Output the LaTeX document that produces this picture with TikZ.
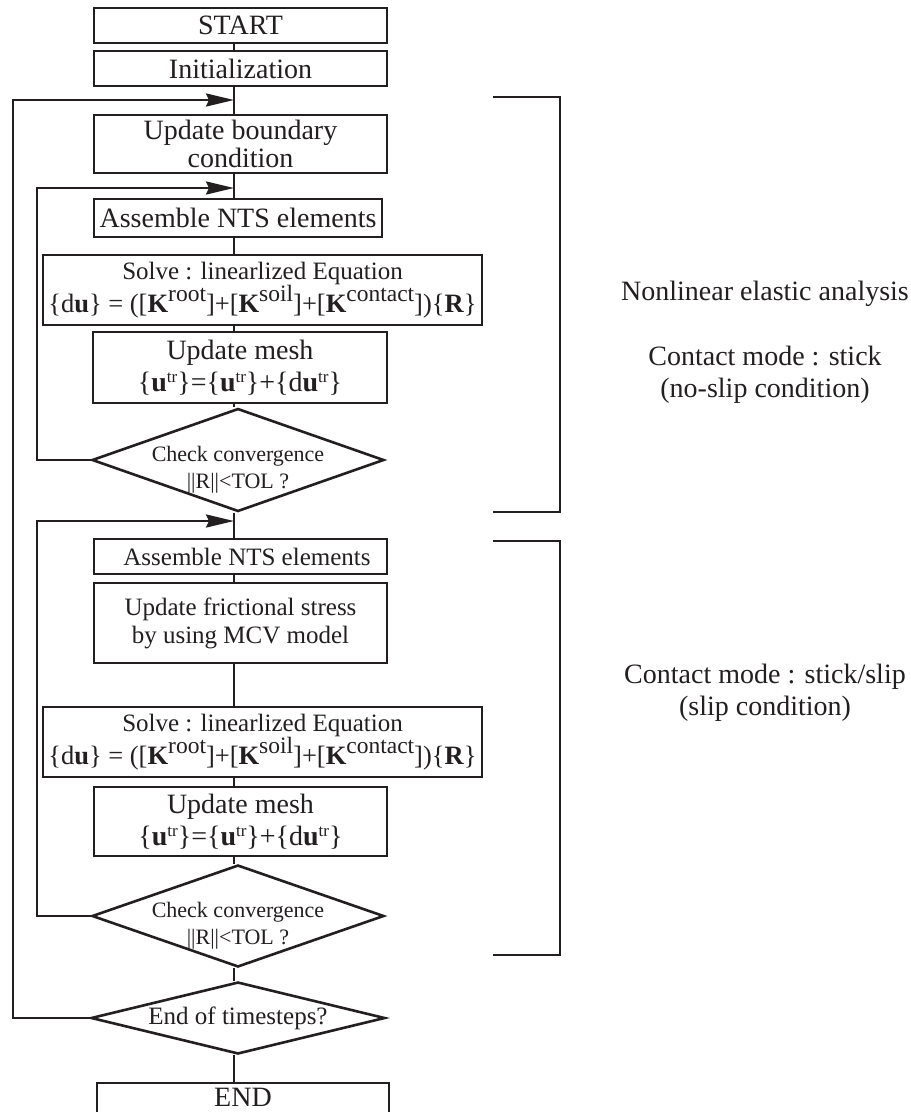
\documentclass[tikz,border=0pt]{standalone}
\usepackage{fontspec}
\setmainfont{Liberation Serif}
\usetikzlibrary{arrows.meta,shapes.geometric}
\definecolor{ink}{RGB}{35,31,32}
\newcommand\supx[1]{\raisebox{11pt}{\fontsize{23.5}{23.5}\selectfont #1}}
\newcommand\supt[1]{\raisebox{9pt}{\fontsize{17}{17}\selectfont #1}}
\begin{document}
\begin{tikzpicture}[x=1pt,y=-1pt,
  line width=2.6pt, draw=ink, text=ink,
  box/.style={draw=ink, rectangle, inner sep=0pt, align=center, font=\fontsize{28}{28}\selectfont},
  dec/.style={draw=ink, diamond, inner sep=0pt},
  dectxt/.style={inner sep=0pt, align=center, font=\fontsize{22}{27}\selectfont, text=ink},
  arr/.style={-{Stealth[length=28pt,width=13pt,inset=3pt]}},
  lab/.style={font=\fontsize{28}{32}\selectfont, align=center, anchor=base, text=ink},
  link/.style={draw=ink}
]
\clip (0,0) rectangle (911,1112);
\fill[white] (0,0) rectangle (911,1112);

% spine coordinate
\coordinate (sp) at (234,0);

% boxes
\node[box, minimum width=293pt, minimum height=35pt] (start) at (240.5,25.5) {START};
\node[box, minimum width=293pt, minimum height=35pt] (init) at (240.5,68.5) {Initialization};
\node[box, minimum width=293pt, minimum height=58pt] (ubc) at (240.5,144) {Update boundary\\condition};
\node[box, minimum width=288pt, minimum height=38pt] (asm1) at (238,218) {Assemble NTS elements};
\node[box, minimum width=439pt, minimum height=70pt, font=\fontsize{25}{28}\selectfont] (solve1) at (262.5,290)
  {Solve : linearlized Equation\\{\fontsize{26.5}{28}\selectfont\{d\textbf{u}\} = ([\textbf{K}\supx{root}]+[\textbf{K}\supx{soil}]+[\textbf{K}\supx{contact}])\{\textbf{R}\}}};
\node[box, minimum width=294pt, minimum height=71pt, font=\fontsize{28}{32}\selectfont] (mesh1) at (240,367.5)
  {Update mesh\\\{\textbf{u}\supt{tr}\}=\{\textbf{u}\supt{tr}\}+\{d\textbf{u}\supt{tr}\}};
\node[dec, minimum width=292pt, minimum height=103pt] (dia1) at (238,460) {};
\node[dectxt] (dia1t) at (238,470) {Check convergence\\||R||<TOL ?};

\node[box, minimum width=293pt, minimum height=35pt, font=\fontsize{25}{25}\selectfont] (asm2) at (240.5,556.5) {\hspace*{13pt}Assemble NTS elements};
\node[box, minimum width=293pt, minimum height=80pt, font=\fontsize{25}{28}\selectfont] (fric) at (240.5,623) {Update frictional stress\\by using MCV model};
\node[box, minimum width=439pt, minimum height=70pt, font=\fontsize{25}{28}\selectfont] (solve2) at (262.5,742)
  {Solve : linearlized Equation\\{\fontsize{26.5}{28}\selectfont\{d\textbf{u}\} = ([\textbf{K}\supx{root}]+[\textbf{K}\supx{soil}]+[\textbf{K}\supx{contact}])\{\textbf{R}\}}};
\node[box, minimum width=293pt, minimum height=69pt, font=\fontsize{28}{32}\selectfont] (mesh2) at (240.5,821.5)
  {Update mesh\\\{\textbf{u}\supt{tr}\}=\{\textbf{u}\supt{tr}\}+\{d\textbf{u}\supt{tr}\}};
\node[dec, minimum width=292pt, minimum height=102pt] (dia2) at (238,916) {};
\node[dectxt] (dia2t) at (238,926) {Check convergence\\||R||<TOL ?};
\node[dec, minimum width=294pt, minimum height=72pt] (dia3) at (238,1018) {};
\node[dectxt, font=\fontsize{25}{25}\selectfont] (dia3t) at (238,1018) {End of timesteps?};
\node[box, minimum width=292pt, minimum height=36pt] (finish) at (243,1101) {};
\node[inner sep=0pt, font=\fontsize{28}{28}\selectfont, text=ink, anchor=base] (finisht) at (243,1106) {END};

% spine connectors
\draw[link] (start.south -| sp) -- (init.north -| sp);
\draw[link] (init.south -| sp) -- (ubc.north -| sp);
\draw[link] (ubc.south -| sp) -- (asm1.north -| sp);
\draw[link] (asm1.south -| sp) -- (solve1.north -| sp);
\draw[link] (solve1.south -| sp) -- (mesh1.north -| sp);
\draw[link] (mesh1.south -| sp) -- (dia1.north -| sp);
\draw[link] (dia1.south -| sp) -- (asm2.north -| sp);
\draw[link] (asm2.south -| sp) -- (fric.north -| sp);
\draw[link] (fric.south -| sp) -- (solve2.north -| sp);
\draw[link] (solve2.south -| sp) -- (mesh2.north -| sp);
\draw[link] (mesh2.south -| sp) -- (dia2.north -| sp);
\draw[link] (dia2.south -| sp) -- (dia3.north -| sp);
\draw[link] (dia3.south -| sp) -- (finish.north -| sp);

% loop junctions
\coordinate (j1) at (234,100);
\coordinate (j2) at (234,188);
\coordinate (j3) at (234,521);
\coordinate (o1) at (13,100);
\coordinate (o2) at (37,188);
\coordinate (o3) at (37,521);

\draw[link, arr] (dia3.west) -| (o1) -- (j1);
\draw[link, arr] (dia1.west) -| (o2) -- (j2);
\draw[link, arr] (dia2.west) -| (o3) -- (j3);

% brackets
\draw[link] (493,97) -- (560,97) -- (560,512) -- (493,512);
\draw[link] (493,541) -- (560,541) -- (560,955) -- (493,955);

% labels
\node[lab] (l1) at (765,300) {Nonlinear elastic analysis};
\node[lab] (l2) at (765,397) {Contact mode : stick\\(no-slip condition)};
\node[lab] (l3) at (765,715) {Contact mode : stick/slip\\(slip condition)};
\end{tikzpicture}
\end{document}
